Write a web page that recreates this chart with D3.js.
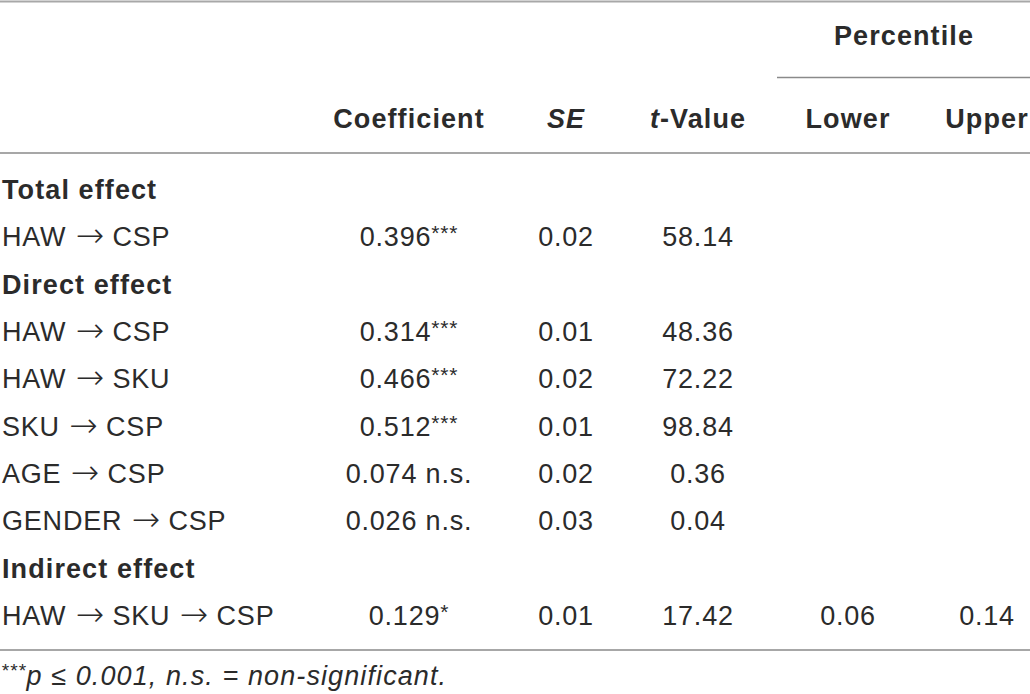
<!DOCTYPE html>
<html>
<head>
<meta charset="utf-8">
<script src="https://cdn.jsdelivr.net/npm/d3@7"></script>
<style>
  html, body { margin: 0; padding: 0; background: #fff; }
  svg { display: block; font-family: "Liberation Sans", Arial, Helvetica, sans-serif; }
</style>
</head>
<body>
<div class="table"></div>
<script>
var columns = ["Coefficient", "SE", "t-Value", "Lower", "Upper"];
var groups = ["Total effect", "Direct effect", "Indirect effect"];

var rowLabels = ["HAW \u2192 CSP", "HAW \u2192 CSP", "HAW \u2192 SKU", "SKU \u2192 CSP", "AGE \u2192 CSP", "GENDER \u2192 CSP", "HAW \u2192 SKU \u2192 CSP"];
var rowGroup = [0, 1, 1, 1, 1, 1, 2];
var coefficients = ["0.396", "0.314", "0.466", "0.512", "0.074", "0.026", "0.129"];
var significance = ["***", "***", "***", "***", " n.s.", " n.s.", "*"];
var seValues = ["0.02", "0.01", "0.02", "0.01", "0.02", "0.03", "0.01"];
var tValues = ["58.14", "48.36", "72.22", "98.84", "0.36", "0.04", "17.42"];
var lowerValues = ["", "", "", "", "", "", "0.06"];
var upperValues = ["", "", "", "", "", "", "0.14"];

var footnote = "p \u2264 0.001, n.s. = non-significant.";

var width = 1030, height = 694;

// build the line list: group header, then its rows
var lines = [];
groups.forEach(function (g, gi) {
    lines.push({ type: "group", label: g });
    rowLabels.forEach(function (l, i) {
        if (rowGroup[i] === gi) lines.push({ type: "row", label: l, i: i });
    });
});

var y = d3.scaleLinear().domain([0, lines.length - 1]).range([199, 625]);
var x = d3.scaleOrdinal().domain(columns).range([409, 566, 698, 848, 987]);

var svg = d3.select(".table")
    .append("svg")
    .attr("width", width)
    .attr("height", height);

var ink = "#2b2b2b";
var rule = "#8a8a8a";
var bodySize = "27px", bodySpacing = "0.8px";
var boldSpacing = "1.1px";

// rules
svg.append("line").attr("x1", 0).attr("x2", width).attr("y1", 1.5).attr("y2", 1.5)
    .attr("stroke", "#a8a8a8").attr("stroke-width", 2);
svg.append("line").attr("x1", 777).attr("x2", width).attr("y1", 77.5).attr("y2", 77.5)
    .attr("stroke", rule).attr("stroke-width", 1.5);
svg.append("line").attr("x1", 0).attr("x2", width).attr("y1", 153).attr("y2", 153)
    .attr("stroke", rule).attr("stroke-width", 1.5);
svg.append("line").attr("x1", 0).attr("x2", width).attr("y1", 650).attr("y2", 650)
    .attr("stroke", rule).attr("stroke-width", 1.5);

// spanner header
svg.append("text")
    .attr("x", 904)
    .attr("y", 45)
    .attr("text-anchor", "middle")
    .attr("font-size", bodySize)
    .attr("font-weight", "bold")
    .attr("letter-spacing", boldSpacing)
    .attr("fill", ink)
    .text("Percentile");

// column headers
var heads = svg.selectAll(".head")
    .data(columns)
    .enter().append("text")
    .classed("head", true)
    .attr("x", d => x(d))
    .attr("y", 128)
    .attr("text-anchor", "middle")
    .attr("font-size", bodySize)
    .attr("font-weight", "bold")
    .attr("letter-spacing", boldSpacing)
    .attr("fill", ink);

heads.each(function (d) {
    var t = d3.select(this);
    if (d === "SE") {
        t.append("tspan").attr("font-style", "italic").text("SE");
    } else if (d === "t-Value") {
        t.append("tspan").attr("font-style", "italic").text("t");
        t.append("tspan").text("-Value");
    } else {
        t.text(d);
    }
});

// body
var body = svg.selectAll(".line")
    .data(lines)
    .enter().append("g")
    .classed("line", true)
    .attr("transform", (d, k) => "translate(0," + y(k) + ")");

var labels = body.append("text")
    .attr("x", 2)
    .attr("font-size", bodySize)
    .attr("font-weight", d => d.type === "group" ? "bold" : "normal")
    .attr("letter-spacing", d => d.type === "group" ? boldSpacing : bodySpacing)
    .attr("fill", ink);

// row labels: draw the arrows with a wider, thinner glyph
labels.each(function (d) {
    var t = d3.select(this);
    if (d.type === "group") { t.text(d.label); return; }
    d.label.split("\u2192").forEach(function (part, k) {
        if (k > 0) {
            t.append("tspan")
                .attr("font-family", "DejaVu Sans")
                .attr("font-weight", 200)
                .attr("font-size", "34px")
                .attr("letter-spacing", 0)
                .attr("dx", 1)
                .attr("dy", 1)
                .text("\u2192");
            t.append("tspan").attr("dy", -1).text(part);
        } else {
            t.append("tspan").text(part);
        }
    });
});

var rows = body.filter(d => d.type === "row");

var coef = rows.append("text")
    .attr("x", x("Coefficient"))
    .attr("text-anchor", "middle")
    .attr("font-size", bodySize)
    .attr("letter-spacing", bodySpacing)
    .attr("fill", ink);
coef.append("tspan").text(d => coefficients[d.i]);
coef.append("tspan")
    .text(d => significance[d.i])
    .attr("font-size", d => significance[d.i].indexOf("*") >= 0 ? "21px" : bodySize)
    .attr("dy", d => significance[d.i].indexOf("*") >= 0 ? -6 : 0);

[["SE", seValues], ["t-Value", tValues], ["Lower", lowerValues], ["Upper", upperValues]].forEach(function (c) {
    rows.append("text")
        .attr("x", x(c[0]))
        .attr("text-anchor", "middle")
        .attr("font-size", bodySize)
        .attr("letter-spacing", bodySpacing)
        .attr("fill", ink)
        .text(d => c[1][d.i]);
});

// footnote
var note = svg.append("text")
    .attr("x", 1)
    .attr("y", 685)
    .attr("font-size", "27px")
    .attr("font-style", "italic")
    .attr("letter-spacing", "1.1px")
    .attr("fill", ink);
note.append("tspan").attr("font-size", "19px").attr("dy", -8).text("***");
note.append("tspan").attr("dy", 8).text(footnote);
</script>
</body>
</html>
